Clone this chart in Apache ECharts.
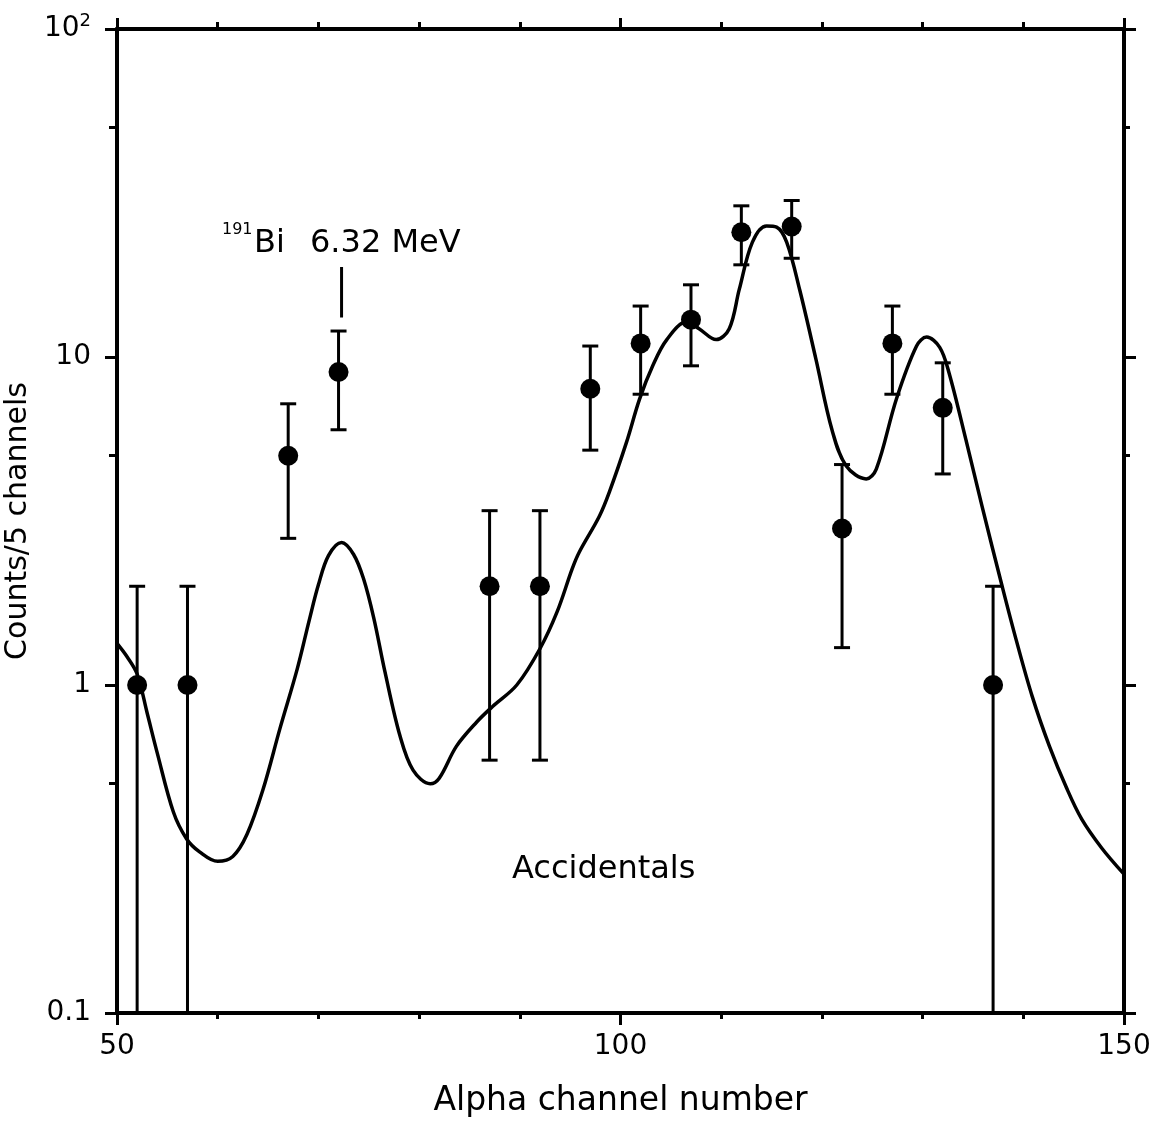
<!DOCTYPE html>
<html>
<head>
<meta charset="utf-8">
<script src="https://cdn.jsdelivr.net/npm/echarts@6/dist/echarts.min.js"></script>
<style>
  html, body { margin: 0; padding: 0; background: #fff; }
  #chart { width: 1156px; height: 1137px; }
</style>
</head>
<body>
<div id="chart"></div>
<script>
// measured points (counts per 5 channels) with error bar ends
const channels = [52, 57, 67, 72, 87, 92, 97, 102, 107, 112, 117, 122, 127, 132, 137]
const counts = [1, 1, 5, 9, 2, 2, 8, 11, 13, 24, 25, 3, 11, 7, 1]
const errHigh = [2, 2, 7.2, 12, 3.4, 3.4, 10.8, 14.3, 16.6, 28.9, 30, 4.7, 14.3, 9.6, 2]
const errLow = [0.1, 0.1, 2.8, 6, 0.59, 0.59, 5.2, 7.7, 9.4, 19.1, 20, 1.3, 7.7, 4.4, 0.1]

// fitted curve
const fitX = [50, 51, 52, 53, 54, 55.6, 56.9, 58.2, 60, 61.5, 62.9, 64.5, 66.2, 67.9, 69.1, 70, 71, 72.3, 73.5, 74.5, 75.5, 76.6, 78.1, 79.4, 81.1, 82, 83.7, 85.7, 87.3, 89.7, 92, 93.7, 95.2, 95.9, 97.9, 98.9, 100.6, 101.9, 103.2, 104.6, 106.6, 107.8, 109.5, 110.8, 111.8, 113.1, 114.5, 115.5, 116.5, 117.8, 119.4, 121, 122.4, 124.4, 125.4, 127.4, 129.4, 130.4, 131.7, 132.6, 134.3, 135.9, 137.9, 139.3, 140.9, 142.6, 144.3, 145.8, 147.8, 150]
const fitY = [1.34, 1.22, 1.08, 0.82, 0.62, 0.41, 0.34, 0.31, 0.29, 0.3, 0.35, 0.48, 0.74, 1.12, 1.58, 2.02, 2.48, 2.72, 2.5, 2.1, 1.6, 1.1, 0.7, 0.55, 0.5, 0.52, 0.65, 0.77, 0.86, 1.0, 1.29, 1.67, 2.26, 2.54, 3.27, 3.88, 5.5, 7.45, 9.4, 11.3, 12.8, 12.2, 11.3, 12.2, 16.1, 22.4, 25.1, 24.9, 22.4, 16.0, 9.87, 6.0, 4.66, 4.25, 4.55, 7.45, 10.8, 11.5, 10.7, 9.0, 5.6, 3.51, 2.0, 1.37, 0.92, 0.65, 0.485, 0.39, 0.318, 0.265]

// 191Bi 6.32 MeV marker
const markX = [72.3, 72.3]
const markY = [18.8, 13.2]

// tick values
const xMajor = 50
const xMinor = 10
const yMinorTicks = [0.5, 5, 50]

const font = 'DejaVu Sans'
const black = '#000'

const chart = echarts.init(document.getElementById('chart'))

const errData = channels.map((c, i) => [c, errLow[i], errHigh[i]])
const minorLog = yMinorTicks.map(v => Math.log10(v))

const xBase = {
  type: 'value',
  min: 50,
  max: 150,
  splitLine: { show: false },
  axisLine: { show: true, onZero: false, lineStyle: { color: black, width: 4 } },
  axisTick: { show: true, inside: false, lineStyle: { color: black, width: 3 } },
  axisLabel: { show: false }
}
const yMinorBase = {
  type: 'value',
  min: -1,
  max: 2,
  splitLine: { show: false },
  axisLine: { show: false, onZero: false },
  axisTick: { show: true, inside: false, customValues: minorLog, lineStyle: { color: black, width: 3 } },
  axisLabel: { show: false }
}

chart.setOption({
  animation: false,
  backgroundColor: '#fff',
  grid: { left: 117, right: 32, top: 29, bottom: 124, containLabel: false, outerBoundsMode: 'none' },
  xAxis: [
    Object.assign({}, xBase, {
      position: 'bottom',
      interval: xMajor,
      axisTick: { show: true, inside: false, length: 12, lineStyle: { color: black, width: 3 } },
      axisLabel: { show: true, color: black, fontSize: 28, fontFamily: font, margin: 20 },
      name: 'Alpha channel number',
      nameLocation: 'middle',
      nameGap: 72,
      nameTextStyle: { color: black, fontSize: 33, fontFamily: font }
    }),
    Object.assign({}, xBase, { position: 'bottom', interval: xMinor, axisTick: Object.assign({}, xBase.axisTick, { length: 6 }) }),
    Object.assign({}, xBase, { position: 'top', interval: xMinor, axisTick: Object.assign({}, xBase.axisTick, { length: 7 }) }),
    Object.assign({}, xBase, { position: 'top', interval: xMajor, axisTick: Object.assign({}, xBase.axisTick, { length: 11 }) })
  ],
  yAxis: [
    {
      type: 'log',
      logBase: 10,
      min: 0.1,
      max: 100,
      position: 'left',
      splitLine: { show: false },
      axisLine: { show: true, onZero: false, lineStyle: { color: black, width: 4 } },
      axisTick: { show: true, inside: false, length: 12, lineStyle: { color: black, width: 3 } },
      axisLabel: {
        color: black,
        fontSize: 28,
        fontFamily: font,
        margin: 26,
        formatter: v => v >= 100 ? '{n|10}{s|2}' : String(v),
        rich: {
          n: { fontSize: 28, fontFamily: font, color: black },
          s: { fontSize: 18, fontFamily: font, color: black, padding: [0, 0, 16, 0] }
        }
      },
      name: 'Counts/5 channels',
      nameLocation: 'middle',
      nameGap: 74,
      nameRotate: 90,
      nameTextStyle: { color: black, fontSize: 30, fontFamily: font }
    },
    Object.assign({}, yMinorBase, { position: 'left', axisTick: Object.assign({}, yMinorBase.axisTick, { length: 8 }) }),
    {
      type: 'log',
      logBase: 10,
      min: 0.1,
      max: 100,
      position: 'right',
      splitLine: { show: false },
      axisLine: { show: true, onZero: false, lineStyle: { color: black, width: 4 } },
      axisTick: { show: true, inside: false, length: 12, lineStyle: { color: black, width: 3 } },
      axisLabel: { show: false }
    },
    Object.assign({}, yMinorBase, { position: 'right', axisTick: Object.assign({}, yMinorBase.axisTick, { length: 6 }) })
  ],
  graphic: [
    {
      type: 'text',
      left: 222,
      top: 222,
      style: { text: '191', fontSize: 16, fontFamily: font, fill: black }
    },
    {
      type: 'text',
      left: 254,
      top: 228,
      style: { text: 'Bi', fontSize: 32, fontFamily: font, fill: black }
    },
    {
      type: 'text',
      left: 310,
      top: 228,
      style: { text: '6.32 MeV', fontSize: 32, fontFamily: font, fill: black }
    },
    {
      type: 'text',
      left: 512,
      top: 854,
      style: { text: 'Accidentals', fontSize: 32, fontFamily: font, fill: black }
    }
  ],
  series: [
    {
      name: 'fit',
      type: 'line',
      data: fitX.map((x, i) => [x, fitY[i]]),
      smooth: 0.35,
      showSymbol: false,
      clip: true,
      lineStyle: { color: black, width: 3.5 },
      z: 2
    },
    {
      name: 'errors',
      type: 'custom',
      data: errData,
      encode: { x: 0, y: [1, 2] },
      clip: true,
      renderItem: (params, api) => {
        const x = api.value(0)
        const lo = api.coord([x, api.value(1)])
        const hi = api.coord([x, api.value(2)])
        const w = 8
        const style = { stroke: black, lineWidth: 3 }
        const children = [
          { type: 'line', shape: { x1: lo[0], y1: lo[1], x2: hi[0], y2: hi[1] }, style: style },
          { type: 'line', shape: { x1: hi[0] - w, y1: hi[1], x2: hi[0] + w, y2: hi[1] }, style: style }
        ]
        if (api.value(1) > 0.1) {
          children.push({ type: 'line', shape: { x1: lo[0] - w, y1: lo[1], x2: lo[0] + w, y2: lo[1] }, style: style })
        }
        return { type: 'group', children: children }
      },
      z: 3
    },
    {
      name: 'data',
      type: 'scatter',
      data: channels.map((c, i) => [c, counts[i]]),
      symbol: 'circle',
      symbolSize: 20,
      itemStyle: { color: black, opacity: 1 },
      z: 4
    },
    {
      name: 'marker',
      type: 'line',
      data: markX.map((x, i) => [x, markY[i]]),
      showSymbol: false,
      lineStyle: { color: black, width: 3 },
      z: 4
    }
  ]
})
</script>
</body>
</html>
